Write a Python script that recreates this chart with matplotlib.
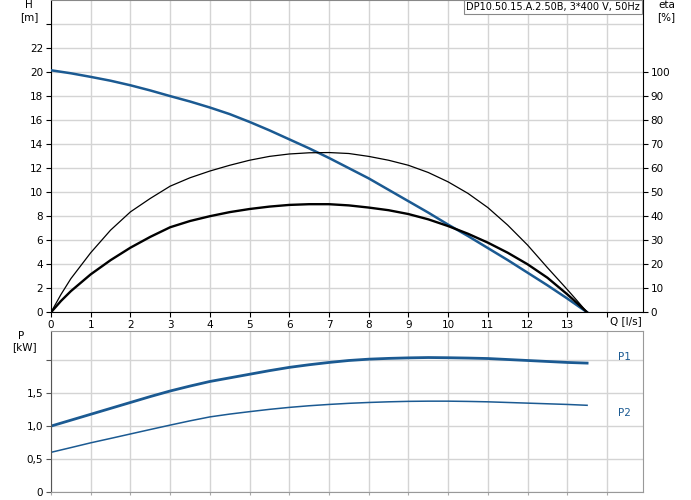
import matplotlib
matplotlib.use("Agg")
import matplotlib.pyplot as plt

# ---- data ----
q_h = [0, 0.5, 1, 1.5, 2, 2.5, 3, 3.5, 4, 4.5, 5, 5.5, 6, 6.5, 7, 7.5, 8, 8.5,
       9, 9.5, 10, 10.5, 11, 11.5, 12, 12.5, 13, 13.5]
h = [20.15, 19.9, 19.6, 19.28, 18.9, 18.47, 18.0, 17.55, 17.05, 16.5, 15.85, 15.15,
     14.4, 13.65, 12.85, 12.0, 11.15, 10.2, 9.25, 8.3, 7.3, 6.35, 5.35, 4.35,
     3.3, 2.25, 1.15, 0.0]

q_eta = [0, 0.25, 0.5, 1, 1.5, 2, 2.5, 3, 3.5, 4, 4.5, 5, 5.5, 6, 6.5, 7, 7.5, 8,
         8.5, 9, 9.5, 10, 10.5, 11, 11.5, 12, 12.5, 13, 13.25, 13.5]
eta_thin = [0, 7.4, 14.0, 24.8, 34.2, 41.8, 47.4, 52.5, 56.0, 58.8, 61.2, 63.3,
            64.9, 65.9, 66.4, 66.5, 66.1, 64.9, 63.3, 61.2, 58.2, 54.3, 49.5,
            43.6, 36.3, 28.0, 18.6, 9.5, 4.8, 0]
eta_thick = [0, 4.7, 8.8, 15.8, 21.7, 26.9, 31.4, 35.4, 38.0, 40.0, 41.7, 43.0,
             44.0, 44.7, 45.0, 45.0, 44.5, 43.6, 42.5, 40.9, 38.7, 35.9, 32.7,
             29.0, 24.8, 20.0, 14.4, 7.5, 3.8, 0]

q_p = [0, 0.5, 1, 1.5, 2, 2.5, 3, 3.5, 4, 4.5, 5, 5.5, 6, 6.5, 7, 7.5, 8, 8.5,
       9, 9.5, 10, 10.5, 11, 11.5, 12, 12.5, 13, 13.5]
p1 = [1.0, 1.09, 1.18, 1.27, 1.36, 1.45, 1.535, 1.61, 1.68, 1.735, 1.79, 1.845,
      1.895, 1.935, 1.97, 2.0, 2.02, 2.032, 2.04, 2.045, 2.042, 2.037, 2.03,
      2.015, 2.0, 1.985, 1.97, 1.96]
p2 = [0.6, 0.672, 0.745, 0.812, 0.88, 0.948, 1.015, 1.08, 1.14, 1.183, 1.22,
      1.255, 1.285, 1.31, 1.33, 1.347, 1.36, 1.37, 1.377, 1.38, 1.38, 1.376,
      1.37, 1.36, 1.35, 1.34, 1.33, 1.317]

x_ticks = list(range(0, 15))
x_labels = [str(v) for v in range(0, 14)] + [""]
h_ticks = list(range(0, 26, 2))
h_labels = [str(v) for v in range(0, 24, 2)] + [""]
eta_ticks = list(range(0, 110, 10))
p_ticks = [0, 0.5, 1.0, 1.5, 2.0]
p_labels = ["0", "0,5", "1,0", "1,5", ""]

title = "DP10.50.15.A.2.50B, 3*400 V, 50Hz"

BLUE = "#1b5a92"
GRID = "#d4d4d4"
FS = 7.5

plt.rcParams["font.family"] = ["DejaVu Sans"]
fig = plt.figure(figsize=(6.91, 5.0), dpi=100)
W, H = 691.0, 500.0

def rect(l, t, r, b):
    return [l / W, 1 - b / H, (r - l) / W, (b - t) / H]

XMAX = 14.9

# ---- top axes ----
ax = fig.add_axes(rect(51, 0, 642.7, 312.3))
ax.set_xlim(0, XMAX)
ax.set_ylim(0, 26)
ax.set_xticks(x_ticks)
ax.set_xticklabels(x_labels, fontsize=FS)
ax.set_yticks(h_ticks)
ax.set_yticklabels(h_labels, fontsize=FS)
ax.grid(True, color=GRID, linewidth=1.0)
ax.set_axisbelow(True)
ax.tick_params(length=3.5, width=0.8, pad=2)
for s in ["left", "bottom"]:
    ax.spines[s].set_color("black")
ax.spines["top"].set_color("#888888")
ax.spines["right"].set_visible(False)
ax.plot(q_h, h, color=BLUE, linewidth=1.8, zorder=5)

ax2 = ax.twinx()
ax2.set_ylim(0, 130)
ax2.set_yticks(eta_ticks)
ax2.set_yticklabels([str(v) for v in eta_ticks], fontsize=FS)
ax2.tick_params(length=3.5, width=0.8, pad=2)
ax2.spines["right"].set_color("black")
ax2.spines["top"].set_visible(False)
ax2.spines["left"].set_visible(False)
ax2.spines["bottom"].set_visible(False)
ax2.plot(q_eta, eta_thin, color="black", linewidth=0.9, zorder=4)
ax2.plot(q_eta, eta_thick, color="black", linewidth=1.7, zorder=4)

ax.text(14.48, -0.35, "Q [l/s]", fontsize=FS, ha="center", va="top", transform=ax.transData)

fig.text(29 / W, 1 - 5 / H, "H", fontsize=FS, ha="center", va="center")
fig.text(29 / W, 1 - 17 / H, "[m]", fontsize=FS, ha="center", va="center")
fig.text(666.5 / W, 1 - 5 / H, "eta", fontsize=FS, ha="center", va="center")
fig.text(666.5 / W, 1 - 17 / H, "[%]", fontsize=FS, ha="center", va="center")

fig.text(640 / W, 1 - 7 / H, title, fontsize=7, ha="right", va="center",
         bbox=dict(boxstyle="square,pad=0.25", facecolor="white", edgecolor="#888888", linewidth=0.8))

# ---- bottom axes ----
bx = fig.add_axes(rect(51, 330.7, 642.7, 491.7))
bx.set_xlim(0, XMAX)
bx.set_ylim(0, 2.454)
bx.set_xticks(x_ticks)
bx.set_xticklabels([])
bx.set_yticks(p_ticks)
bx.set_yticklabels(p_labels, fontsize=FS)
bx.grid(True, color=GRID, linewidth=1.0)
bx.set_axisbelow(True)
bx.tick_params(axis="y", length=3.5, width=0.8, pad=2, color="#555555")
bx.tick_params(axis="x", length=2, width=0.8, color="#aaaaaa")
for s in bx.spines.values():
    s.set_color("#999999")
bx.spines["left"].set_color("#555555")
bx.plot(q_p, p1, color=BLUE, linewidth=2.0)
bx.plot(q_p, p2, color=BLUE, linewidth=1.1)

bx.text(14.44, 2.06, "P1", color=BLUE, fontsize=FS, ha="center", va="center")
bx.text(14.44, 1.20, "P2", color=BLUE, fontsize=FS, ha="center", va="center")

fig.text(20.7 / W, 1 - 336 / H, "P", fontsize=FS, ha="center", va="center")
fig.text(24 / W, 1 - 347.5 / H, "[kW]", fontsize=FS, ha="center", va="center")

fig.savefig("out.png", dpi=100)
